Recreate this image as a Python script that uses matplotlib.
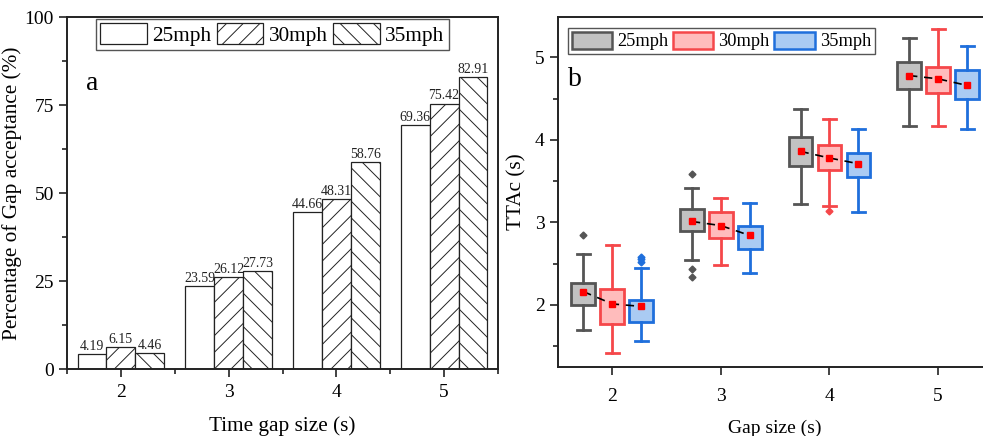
import matplotlib
matplotlib.use("Agg")
import matplotlib.pyplot as plt
from matplotlib.patches import Patch
from matplotlib.ticker import MultipleLocator, FixedLocator
import numpy as np

plt.rcParams['font.family'] = ['Liberation Serif', 'DejaVu Serif']
plt.rcParams['hatch.linewidth'] = 0.7

# ---------- data ----------
gap_sizes = [2, 3, 4, 5]
speeds = ["25mph", "30mph", "35mph"]

accept_25 = [4.19, 23.59, 44.66, 69.36]
accept_30 = [6.15, 26.12, 48.31, 75.42]
accept_35 = [4.46, 27.73, 58.76, 82.91]

# box statistics for TTAc (s): per speed, per gap size
whislo_25 = [1.69, 2.54, 3.22, 4.17]
q1_25     = [2.00, 2.90, 3.68, 4.62]
q3_25     = [2.26, 3.16, 4.03, 4.94]
whishi_25 = [2.61, 3.41, 4.38, 5.24]
mean_25   = [2.16, 3.01, 3.86, 4.78]
fliers_25 = [[2.85], [3.59, 2.43, 2.34], [], []]

whislo_30 = [1.42, 2.48, 3.20, 4.17]
q1_30     = [1.77, 2.81, 3.63, 4.57]
q3_30     = [2.19, 3.12, 3.94, 4.88]
whishi_30 = [2.72, 3.30, 4.25, 5.34]
mean_30   = [2.01, 2.96, 3.78, 4.74]
fliers_30 = [[], [], [3.14], []]

whislo_35 = [1.56, 2.39, 3.13, 4.13]
q1_35     = [1.79, 2.68, 3.55, 4.49]
q3_35     = [2.06, 2.96, 3.84, 4.85]
whishi_35 = [2.45, 3.23, 4.13, 5.14]
mean_35   = [1.98, 2.84, 3.71, 4.66]
fliers_35 = [[2.58, 2.55, 2.52], [], [], []]

# ---------- figure ----------
fig = plt.figure(figsize=(9.83, 4.36), dpi=100)
W, H = 983, 436

def ax_rect(x0, x1, y0, y1):
    return [x0 / W, 1 - y1 / H, (x1 - x0) / W, (y1 - y0) / H]

axA = fig.add_axes(ax_rect(67, 498, 17, 369))
axB = fig.add_axes(ax_rect(558, 992.4, 17, 367))

spine_col = '#222222'
tick_fs = 14

# ---------- panel a ----------
bw = 0.267
offs = [-bw, 0, bw]
hatches = [None, '//', '\\\\']
series = [accept_25, accept_30, accept_35]
x = np.array(gap_sizes, dtype=float)
for i, (vals, h) in enumerate(zip(series, hatches)):
    axA.bar(x + offs[i], vals, width=bw, facecolor='white', edgecolor='#222222',
            linewidth=0.9, hatch=h, label=speeds[i], zorder=2)
    for xi, v in zip(x + offs[i], vals):
        axA.text(xi, v + 0.3, f"{v:.2f}", ha='center', va='bottom', fontsize=10, color='#222222')

axA.set_xlim(1.5, 5.5)
axA.set_ylim(0, 100)
axA.xaxis.set_major_locator(FixedLocator(gap_sizes))
axA.xaxis.set_minor_locator(FixedLocator([1.5, 2.5, 3.5, 4.5, 5.5]))
axA.yaxis.set_major_locator(MultipleLocator(25))
axA.yaxis.set_minor_locator(MultipleLocator(12.5))
axA.tick_params(which='both', direction='out', labelsize=tick_fs, color=spine_col, width=1.2)
axA.tick_params(which='major', length=6)
axA.tick_params(which='minor', length=3.5)
axA.tick_params(axis='x', pad=5)
for s in axA.spines.values():
    s.set_linewidth(1.4)
    s.set_color(spine_col)
axA.set_xlabel("Time gap size (s)", fontsize=15.3, labelpad=11)
axA.set_ylabel("Percentage of Gap acceptance (%)", fontsize=15.3, labelpad=2)
axA.text(0.045, 0.81, "a", transform=axA.transAxes, fontsize=20, ha='left', va='center')
legA = axA.legend(loc='upper left', bbox_to_anchor=(0.067, 0.994), ncol=3, fontsize=15.3,
                  frameon=True, fancybox=False, edgecolor='#555555', framealpha=1,
                  handlelength=2.2, handleheight=1.1, columnspacing=0.25, handletextpad=0.25,
                  borderpad=0.2, borderaxespad=0.0)
legA.get_frame().set_linewidth(1.0)

# ---------- panel b ----------
face_cols = ['#c2c2c2', '#ffbcbc', '#aacbf3']
edge_cols = ['#555555', '#f5474a', '#1f6fdc']
stats_all = [
    (whislo_25, q1_25, q3_25, whishi_25, mean_25, fliers_25),
    (whislo_30, q1_30, q3_30, whishi_30, mean_30, fliers_30),
    (whislo_35, q1_35, q3_35, whishi_35, mean_35, fliers_35),
]
box_w = 0.22
for i, (wl, q1, q3, wh, mn, fl) in enumerate(stats_all):
    stats = []
    for k in range(len(gap_sizes)):
        stats.append(dict(whislo=wl[k], q1=q1[k], med=mn[k], q3=q3[k], whishi=wh[k],
                          mean=mn[k], fliers=fl[k]))
    pos = [g + offs[i] for g in gap_sizes]
    ec = edge_cols[i]
    axB.bxp(stats, positions=pos, widths=box_w, patch_artist=True, showmeans=False,
            showfliers=True, manage_ticks=False,
            boxprops=dict(facecolor=face_cols[i], edgecolor=ec, linewidth=2.0),
            whiskerprops=dict(color=ec, linewidth=2.0),
            capprops=dict(color=ec, linewidth=2.0),
            medianprops=dict(visible=False),
            flierprops=dict(marker='D', markersize=3.5, markerfacecolor=ec,
                            markeredgecolor=ec),
            capwidths=0.12)

# mean connecting dashed lines and markers
for k, g in enumerate(gap_sizes):
    xs = [g + o for o in offs]
    ys = [mean_25[k], mean_30[k], mean_35[k]]
    axB.plot(xs, ys, ls=(0, (5, 4)), color='black', lw=1.2, zorder=4)
    axB.plot(xs, ys, ls='none', marker='s', markersize=5, color='#ff0000', zorder=5)

axB.set_xlim(1.5, 5.5)
axB.set_ylim(1.245, 5.49)
axB.xaxis.set_major_locator(FixedLocator(gap_sizes))
axB.yaxis.set_major_locator(MultipleLocator(1))
axB.yaxis.set_minor_locator(MultipleLocator(0.5))
axB.tick_params(which='both', direction='out', labelsize=tick_fs, color=spine_col, width=1.2)
axB.tick_params(which='major', length=6)
axB.tick_params(which='minor', length=3.5)
axB.tick_params(axis='x', pad=9)
for s in axB.spines.values():
    s.set_linewidth(1.4)
    s.set_color(spine_col)
axB.set_xlabel("Gap size (s)", fontsize=14, labelpad=11)
axB.set_ylabel("TTAc (s)", fontsize=15.3, labelpad=6)
axB.text(0.023, 0.82, "b", transform=axB.transAxes, fontsize=20, ha='left', va='center')
handles = [Patch(facecolor=face_cols[i], edgecolor=edge_cols[i], linewidth=1.8, label=speeds[i])
           for i in range(3)]
legB = axB.legend(handles=handles, loc='upper left', bbox_to_anchor=(0.023, 0.969), ncol=3,
                  fontsize=13.2, frameon=True, fancybox=False, edgecolor='#555555', framealpha=1,
                  handlelength=2.2, handleheight=1.05, columnspacing=0.27, handletextpad=0.27,
                  borderpad=0.2, borderaxespad=0.0)
legB.get_frame().set_linewidth(1.0)

fig.savefig("out.png", dpi=100)
